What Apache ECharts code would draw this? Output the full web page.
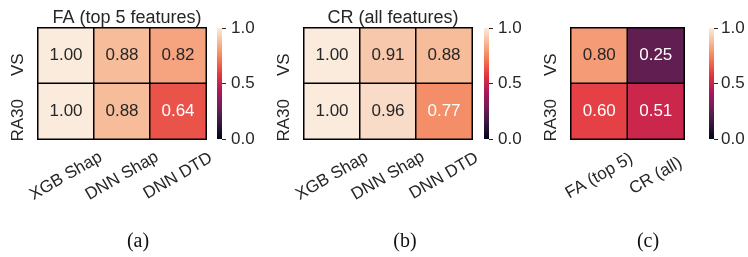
<!DOCTYPE html>
<html><head><meta charset="utf-8">
<script src="https://cdn.jsdelivr.net/npm/echarts@6/dist/echarts.min.js"></script>
<style>html,body{margin:0;padding:0;background:#fff}#c{width:748px;height:257px}</style>
</head><body><div id="c"></div>
<script>
const rowsAB = ['VS', 'RA30'];
const colsAB = ['XGB Shap', 'DNN Shap', 'DNN DTD'];
const faTop5 = [[1.00, 0.88, 0.82], [1.00, 0.88, 0.64]];
const crAll = [[1.00, 0.91, 0.88], [1.00, 0.96, 0.77]];
const colsC = ['FA (top 5)', 'CR (all)'];
const summary = [[0.80, 0.25], [0.60, 0.51]];
const panelTitles = ['FA (top 5 features)', 'CR (all features)'];
const captions = ['(a)', '(b)', '(c)'];
const cbTicks = [0, 0.5, 1.0];
const rocket = ['#03051A', '#35193E', '#701F57', '#AD1759', '#E13342', '#F37651', '#F6B48F', '#FAEBDD'];

const TXT = '#262626';
const FONT = 'Liberation Sans, Arial, sans-serif';

function cells(mat) {
  const out = [];
  mat.forEach((row, r) => row.forEach((v, c) => {
    out.push({ value: [c, r, v], label: { color: v < 0.78 ? '#ffffff' : TXT } });
  }));
  return out;
}

const panels = [
  { left: 38, width: 168, cols: colsAB, data: faTop5, cb: 217, cbm: 9 },
  { left: 304, width: 168, cols: colsAB, data: crAll, cb: 484, cbm: 9 },
  { left: 571, width: 113, cols: colsC, data: summary, cb: 709, cbm: 7 }
];
const TOP = 28, H = 111;

const grid = [], xAxis = [], yAxis = [], series = [];
panels.forEach((p, i) => {
  grid.push({ left: p.left, top: TOP, width: p.width, height: H });
  xAxis.push({
    type: 'category', gridIndex: grid.length - 1, data: p.cols,
    axisLine: { show: false }, axisTick: { show: false }, splitLine: { show: false },
    axisLabel: { interval: 0, rotate: 30, align: 'center', verticalAlign: 'middle', margin: 37,
      fontSize: 17, color: TXT, fontFamily: FONT }
  });
  yAxis.push({
    type: 'category', gridIndex: grid.length - 1, data: rowsAB, inverse: true,
    axisLine: { show: false }, axisTick: { show: false }, splitLine: { show: false },
    axisLabel: { interval: 0, rotate: 90, align: 'center', verticalAlign: 'middle', margin: 20,
      padding: [0, 18, 0, 0], fontSize: 17, color: TXT, fontFamily: FONT }
  });
  series.push({
    type: 'heatmap', xAxisIndex: xAxis.length - 1, yAxisIndex: yAxis.length - 1,
    data: cells(p.data),
    itemStyle: { borderColor: '#000', borderWidth: 1.5 },
    label: { show: true, fontSize: 17, fontFamily: FONT, formatter: (d) => d.value[2].toFixed(2) },
    emphasis: { disabled: true }
  });
});

// colorbars
const grad = { type: 'linear', x: 0, y: 0, x2: 0, y2: 1,
  colorStops: rocket.slice().reverse().map((c, k) => ({ offset: k / (rocket.length - 1), color: c })) };
panels.forEach((p) => {
  grid.push({ left: p.cb, top: TOP, width: 5, height: H });
  xAxis.push({ type: 'category', gridIndex: grid.length - 1, data: ['cb'], show: false });
  yAxis.push({
    type: 'value', gridIndex: grid.length - 1, min: cbTicks[0], max: cbTicks[2], interval: cbTicks[1] - cbTicks[0],
    position: 'right', axisLine: { show: false }, splitLine: { show: false },
    axisTick: { show: true, length: 4, lineStyle: { color: TXT, width: 1 } },
    axisLabel: { margin: p.cbm, fontSize: 17, color: TXT, fontFamily: FONT, formatter: (v) => v.toFixed(1) }
  });
  series.push({
    type: 'bar', xAxisIndex: xAxis.length - 1, yAxisIndex: yAxis.length - 1,
    data: [cbTicks[2]], barWidth: '100%', itemStyle: { color: grad }, silent: true
  });
});

const title = [];
panelTitles.forEach((t, i) => {
  const p = panels[i];
  title.push({ text: t, left: p.left + p.width / 2, top: 4, textAlign: 'center',
    textStyle: { fontSize: 18, fontWeight: 'normal', color: TXT, fontFamily: FONT } });
});
const capX = [133, 400, 643];
captions.forEach((t, i) => {
  title.push({ text: t, left: capX[i], top: 227, textAlign: 'center',
    textStyle: { fontSize: 20, fontWeight: 'normal', color: '#111', fontFamily: 'Liberation Serif, DejaVu Serif, serif' } });
});

const chart = echarts.init(document.getElementById('c'), null, { renderer: 'canvas' });
chart.setOption({
  animation: false,
  backgroundColor: '#ffffff',
  title, grid, xAxis, yAxis, series,
  visualMap: { show: false, min: 0, max: 1, seriesIndex: [0, 1, 2], inRange: { color: rocket } }
});
</script></body></html>
